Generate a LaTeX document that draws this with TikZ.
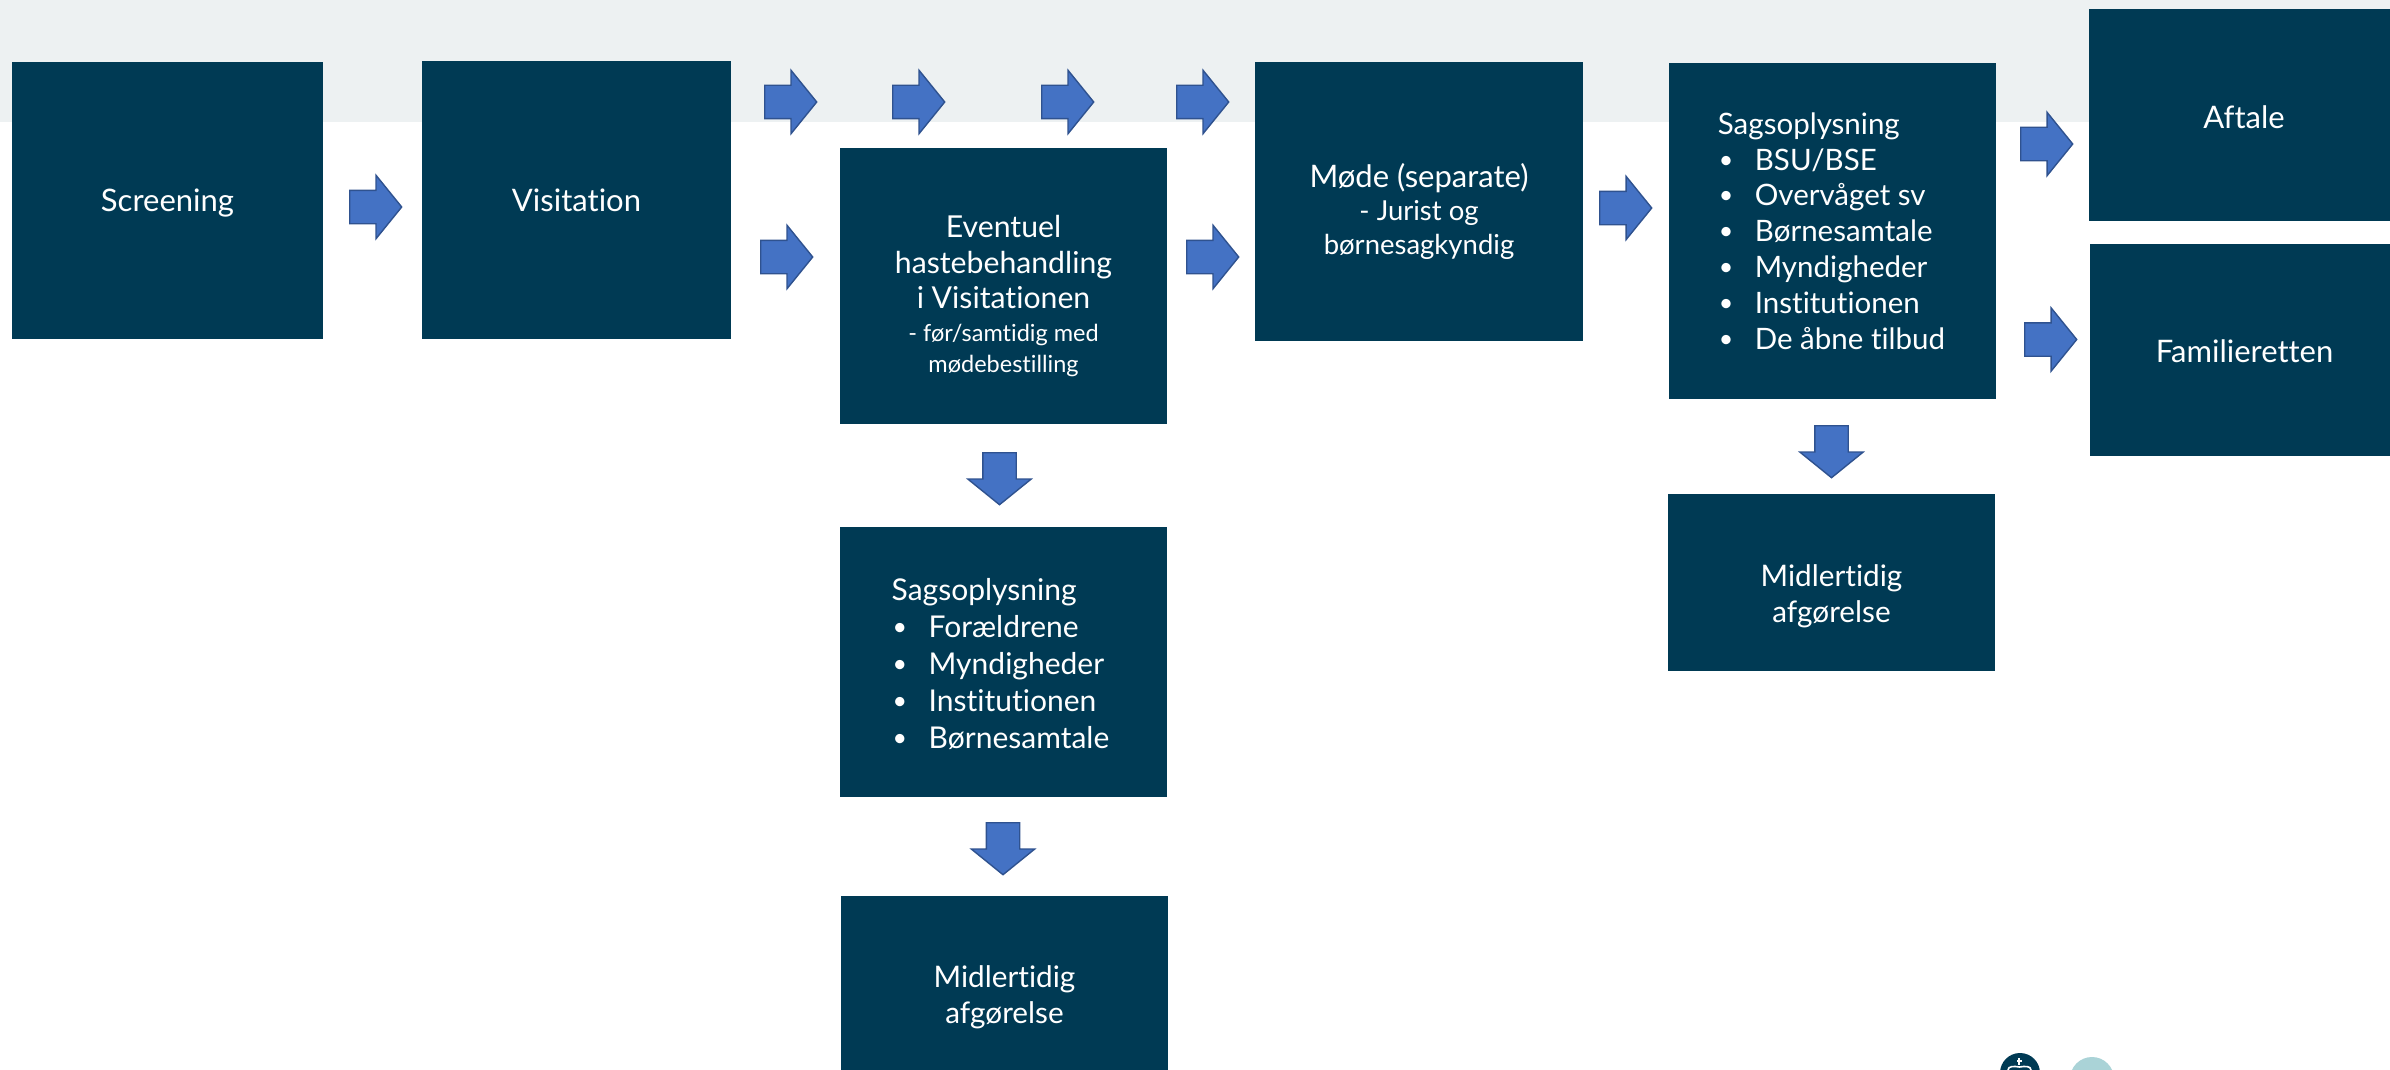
\documentclass[tikz,border=0pt]{standalone}
\usepackage{fontspec}
\setmainfont{Lato}[Ligatures=NoCommon]
\usetikzlibrary{shapes.arrows}
\definecolor{boxblue}{HTML}{003A54}
\definecolor{bandgrey}{HTML}{EDF1F2}
\definecolor{arrowfill}{HTML}{4472C4}
\definecolor{arrowline}{HTML}{2F528F}
\definecolor{paletint}{HTML}{AAD3D7}
\newcommand{\bl}{\makebox[37pt][l]{\hspace*{1pt}\raisebox{2pt}{\fontsize{25}{25}\selectfont\textbullet}}}
\newcommand{\evsmall}{\fontsize{23.5}{30}\selectfont}
\newcommand{\mosmall}{\fontsize{27.5}{30}\selectfont}
\tikzset{
  x=1pt,y=-1pt,
  boxnode/.style={fill=boxblue,text=white,inner sep=0pt,align=center,
    font=\fontsize{31}{35.8}\selectfont},
  barrow/.style={shape=single arrow,fill=arrowfill,draw=arrowline,line width=1.4pt,
    inner xsep=0pt,inner ysep=16pt,minimum height=52pt,minimum width=62pt,
    single arrow head extend=15pt,single arrow tip angle=102,anchor=tail},
  darrow/.style={barrow,inner xsep=16pt,inner ysep=0pt,shape border rotate=270}
}
\begin{document}
\begin{tikzpicture}
\useasboundingbox (0,0) rectangle (2390,1070);
\fill[bandgrey] (0,0) rectangle (2390,122);
% boxes
\node[boxnode,minimum width=311pt,minimum height=277pt] (screening) at (167.5,200.5) {\rule{0pt}{27pt}Screening};
\node[boxnode,minimum width=309pt,minimum height=278pt] (visitation) at (576.5,200) {\rule{0pt}{24pt}Visitation};
\node[boxnode,minimum width=327pt,minimum height=276pt,font=\fontsize{30.2}{35.8}\selectfont] (eventuel) at (1003.5,286)
  {\rule{0pt}{42pt}Eventuel\\hastebehandling\\i Visitationen\\[-3pt]{\evsmall - før/samtidig med}\\[-5pt]{\evsmall mødebestilling}};
\node[boxnode,minimum width=328pt,minimum height=279pt] (moede) at (1419,201.5)
  {\rule{0pt}{44pt}Møde (separate)\\[-2pt]{\mosmall - Jurist og}\\[-2pt]{\mosmall børnesagkyndig}};
\node[boxnode,minimum width=327pt,minimum height=336pt,align=left,font=\fontsize{29.5}{35.8}\selectfont] (sag) at (1832.5,231)
  {Sagsoplysning\\\bl BSU/BSE\\\bl Overvåget sv\\\bl Børnesamtale\\\bl Myndigheder\\\bl Institutionen\\\bl De åbne tilbud\hspace*{2pt}};
\node[boxnode,minimum width=301pt,minimum height=212pt] (aftale) at (2239.5,115) {\hspace*{9pt}\rule{0pt}{27pt}Aftale};
\node[boxnode,minimum width=300pt,minimum height=212pt] (familie) at (2240,350) {\hspace*{9pt}\rule{0pt}{26pt}Familieretten};
\node[boxnode,minimum width=327pt,minimum height=270pt,align=left,font=\fontsize{30}{37}\selectfont] (sagB) at (1003.5,662)
  {\rule{0pt}{26pt}Sagsoplysning\\\bl Forældrene\\\bl Myndigheder\\\bl Institutionen\\\bl Børnesamtale\hspace*{6pt}};
\node[boxnode,minimum width=327pt,minimum height=174pt,font=\fontsize{29.7}{35.8}\selectfont] (midlA) at (1004.5,983)
  {\rule{0pt}{50pt}Midlertidig\\afgørelse};
\node[boxnode,minimum width=327pt,minimum height=177pt,font=\fontsize{29.7}{35.8}\selectfont] (midlB) at (1831.5,582.5)
  {\rule{0pt}{49pt}Midlertidig\\afgørelse};
% arrows
\node[barrow] (a1) at (349,207) {};
\node[barrow] (a2) at (764,102) {};
\node[barrow] (a3) at (892,102) {};
\node[barrow] (a4) at (1041,102) {};
\node[barrow] (a5) at (1176,102) {};
\node[barrow] (a6) at (760,257) {};
\node[barrow] (a7) at (1186,257) {};
\node[barrow] (a8) at (1599,208) {};
\node[barrow] (a9) at (2020,144) {};
\node[barrow] (a10) at (2024,339.5) {};
\node[darrow] (d1) at (999.5,452) {};
\node[darrow] (d2) at (1003,822) {};
\node[darrow] (d3) at (1831.5,425) {};
% logo
\begin{scope}
\clip (1900,1000) rectangle (2390,1070);
\fill[boxblue] (2020,1073) circle[radius=20];
\fill[paletint] (2092,1079) circle[radius=22];
\fill[white] (2018.2,1058) rectangle (2020.2,1065);
\fill[white] (2016.5,1060) rectangle (2022,1062);
\draw[white,line width=1.6pt] (2008,1070) .. controls (2008,1066) and (2014,1066) .. (2019.5,1067)
  .. controls (2025,1066) and (2031,1066) .. (2031,1070);
\end{scope}
\end{tikzpicture}
\end{document}
